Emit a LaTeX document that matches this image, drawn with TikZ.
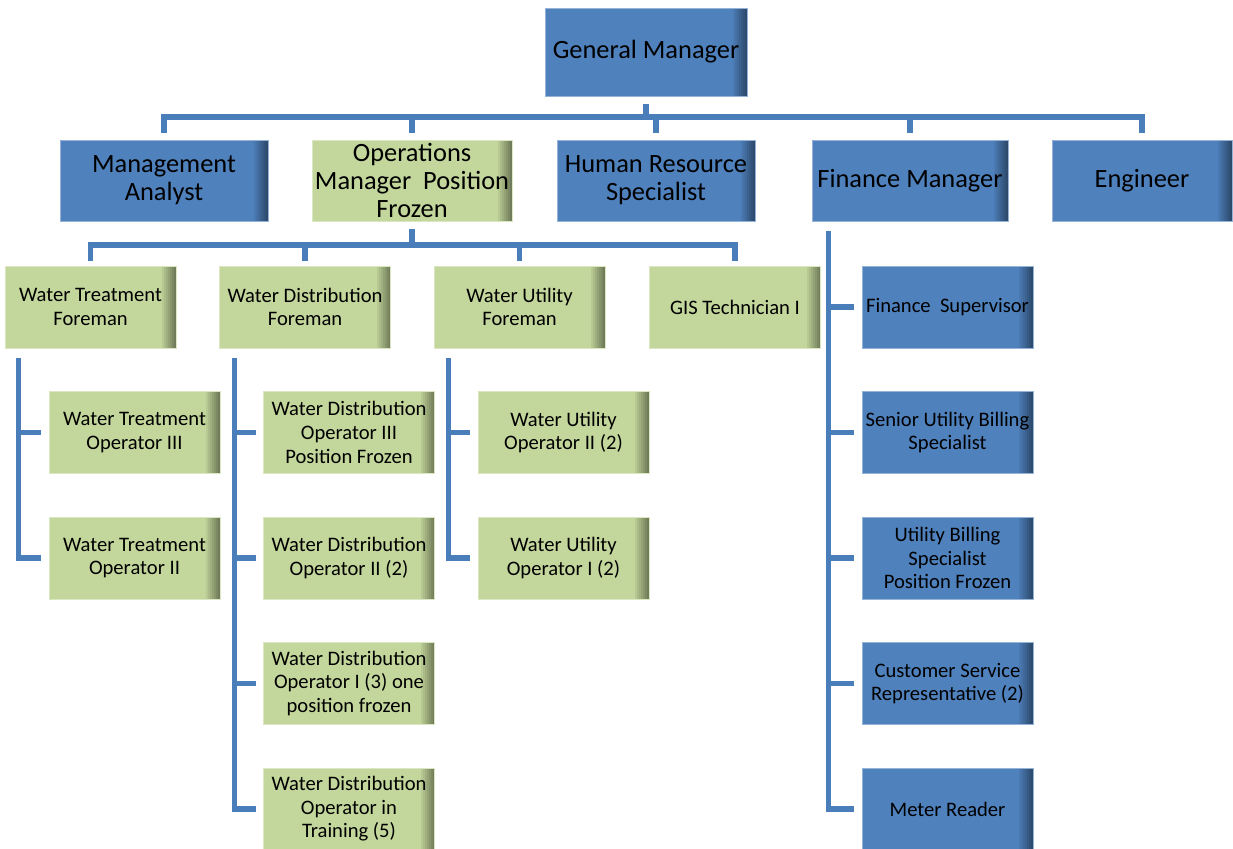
\documentclass[tikz,border=0pt]{standalone}
\usepackage{fontspec}
\setmainfont{Carlito}
\definecolor{bluefill}{RGB}{79,129,189}
\definecolor{greenfill}{RGB}{195,214,155}
\definecolor{linkblue}{RGB}{74,126,187}

\tikzset{box/.style={rectangle, align=center, inner sep=1pt, text=black,
  fill=#1, draw=#1!60!white, line width=0.4pt,
  path picture={\foreach \i [evaluate=\i as \k using int(100-6*\i)] in {1,...,7}
    \fill[#1!\k!black] ([xshift={(\i-8)*1pt}]path picture bounding box.north east)
      rectangle ([xshift={(\i-7)*1pt}]path picture bounding box.south east);}}}
\tikzstyle{headblue} = [box=bluefill, minimum height=40.5pt, font=\fontsize{13.2}{14}\selectfont]
\tikzstyle{headgreen} = [box=greenfill, minimum height=40.5pt, font=\fontsize{13.2}{14}\selectfont]
\tikzstyle{smallblue} = [box=bluefill, minimum width=85.5pt, minimum height=41pt, font=\fontsize{10.3}{11.8}\selectfont]
\tikzstyle{smallgreen} = [box=greenfill, minimum width=85.5pt, minimum height=41pt, font=\fontsize{10.3}{11.8}\selectfont]
\tikzstyle{conn} = [draw=linkblue, line width=2.6pt, line cap=rect]

\begin{document}
\begin{tikzpicture}[x=0.5pt, y=-0.5pt, node distance=62.75pt]
	\useasboundingbox (0,0) rectangle (1233,849);

	% top level
	\node (gm) [headblue, minimum width=101pt, minimum height=44pt] at (646,52) {General Manager};
	\node (ma) [headblue, minimum width=104pt] at (164,180.5) {Management\\Analyst};
	\node (ops) [headgreen, minimum width=100pt] at (412,180.5) {Operations\\Manager~ Position\\Frozen};
	\node (hr) [headblue, minimum width=99pt] at (656,180.5) {Human Resource\\Specialist};
	\node (fm) [headblue, minimum width=98pt] at (910,180.5) {Finance Manager};
	\node (eng) [headblue, minimum width=90pt] at (1142,180.5) {Engineer};

	% foremen
	\node (wtf) [smallgreen] at (90.5,307) {Water Treatment\\Foreman};
	\node (wdf) [smallgreen] at (305,307) {Water Distribution\\Foreman};
	\node (wuf) [smallgreen] at (519.5,307) {Water Utility\\Foreman};
	\node (gis) [smallgreen] at (735,307) {GIS Technician I};

	% operators
	\node (wto3) [smallgreen, below of=wtf, xshift=22pt] {Water Treatment\\Operator III};
	\node (wto2) [smallgreen, below of=wto3] {Water Treatment\\Operator II};

	\node (wdo3) [smallgreen, below of=wdf, xshift=22pt] {Water Distribution\\Operator III\\Position Frozen};
	\node (wdo2) [smallgreen, below of=wdo3] {Water Distribution\\Operator II (2)};
	\node (wdo1) [smallgreen, below of=wdo2] {Water Distribution\\Operator I (3) one\\position frozen};
	\node (wdot) [smallgreen, below of=wdo1] {Water Distribution\\Operator in\\Training (5)};

	\node (wuo2) [smallgreen, below of=wuf, xshift=22pt] {Water Utility\\Operator II (2)};
	\node (wuo1) [smallgreen, below of=wuo2] {Water Utility\\Operator I (2)};

	% finance
	\node (fs) [smallblue, below of=fm, xshift=18.75pt, yshift=-0.5pt] {Finance~ Supervisor};
	\node (sub) [smallblue, below of=fs] {Senior Utility Billing\\Specialist};
	\node (ubs) [smallblue, below of=sub] {Utility Billing\\Specialist\\Position Frozen};
	\node (csr) [smallblue, below of=ubs] {Customer Service\\Representative (2)};
	\node (mr) [smallblue, below of=csr] {Meter Reader};

	% connectors
	\coordinate (bus1) at (0,117);
	\coordinate (bus2) at (0,245);
	\draw [conn, shorten <=5pt] (gm.south) -- (gm.south |- bus1);
	\draw [conn] (ma.north |- bus1) -- (eng.north |- bus1);
	\foreach \n in {ma,ops,hr,fm,eng}
		\draw [conn, shorten >=4.5pt] (\n.north |- bus1) -- (\n.north);

	\draw [conn, shorten <=5pt] (ops.south) -- (ops.south |- bus2);
	\draw [conn] (wtf.north |- bus2) -- (gis.north |- bus2);
	\foreach \n in {wtf,wdf,wuf,gis}
		\draw [conn, shorten >=3.5pt] (\n.north |- bus2) -- (\n.north);

	\coordinate (wtline) at ([xshift=7pt, yshift=-6pt]wtf.south west);
	\draw [conn, shorten >=5pt] (wtline) |- (wto2.west);
	\draw [conn, shorten >=5pt] (wtline |- wto3.west) -- (wto3.west);

	\coordinate (wdline) at ([xshift=7.5pt, yshift=-6pt]wdf.south west);
	\draw [conn, shorten >=5pt] (wdline) |- (wdot.west);
	\foreach \n in {wdo3,wdo2,wdo1}
		\draw [conn, shorten >=5pt] (wdline |- \n.west) -- (\n.west);

	\coordinate (wuline) at ([xshift=7.5pt, yshift=-6pt]wuf.south west);
	\draw [conn, shorten >=5pt] (wuline) |- (wuo1.west);
	\draw [conn, shorten >=5pt] (wuline |- wuo2.west) -- (wuo2.west);

	\coordinate (fmline) at ([xshift=8.5pt, yshift=-6pt]fm.south west);
	\draw [conn, shorten >=5pt] (fmline) |- (mr.west);
	\foreach \n in {fs,sub,ubs,csr}
		\draw [conn, shorten >=5pt] (fmline |- \n.west) -- (\n.west);
\end{tikzpicture}
\end{document}
